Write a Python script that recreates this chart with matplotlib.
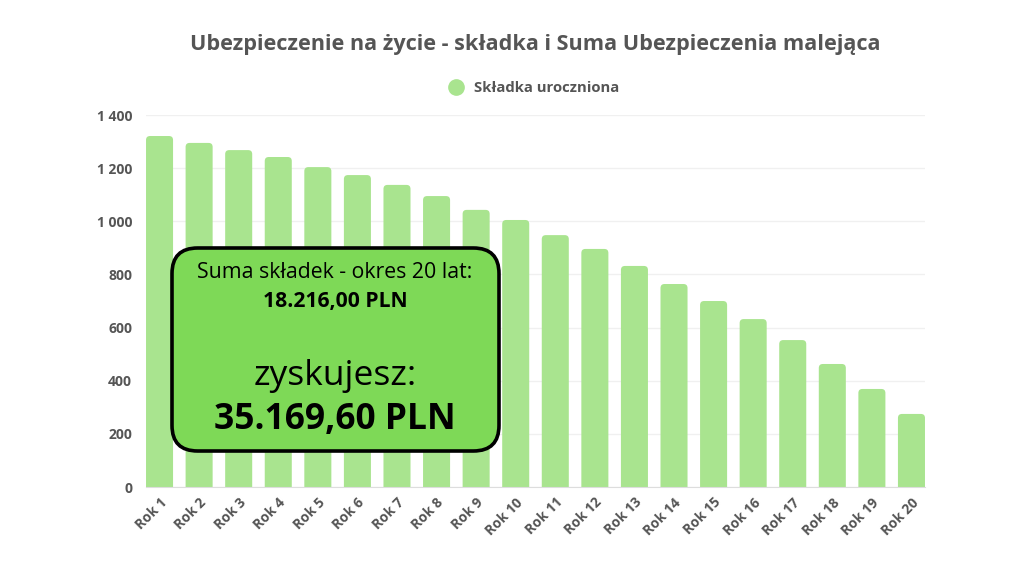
import matplotlib
matplotlib.use('Agg')
import matplotlib.pyplot as plt
from matplotlib.patches import FancyBboxPatch
from matplotlib.lines import Line2D
from matplotlib.ticker import FuncFormatter

plt.rcParams['font.family'] = ['Open Sans', 'DejaVu Sans']

years = ['Rok %d' % i for i in range(1, 21)]
premiums = [1321, 1295, 1268, 1242, 1204, 1174, 1137, 1095, 1043, 1005,
            948, 896, 832, 764, 700, 632, 553, 463, 369, 275]
title = 'Ubezpieczenie na życie - składka i Suma Ubezpieczenia malejąca'
series_name = 'Składka uroczniona'
box_line1 = 'Suma składek - okres 20 lat:'
box_line2 = '18.216,00 PLN'
box_line3 = 'zyskujesz:'
box_line4 = '35.169,60 PLN'

bar_color = '#a9e48f'
text_gray = '#555555'
width = 0.683

fig = plt.figure(figsize=(10.24, 5.76), dpi=100)
ax = fig.add_axes([0.1426, 0.1545, 0.7607, 0.6458])
ax.set_xlim(-width / 2, len(years) - 1 + width / 2)
ax.set_ylim(0, 1400)

# px per data unit, used for rounding the bar tops
px_x = 779 / (len(years) - 1 + width)
px_y = 372 / 1400
radius_px = 4
for i, v in enumerate(premiums):
    p = FancyBboxPatch((i - width / 2, -100), width, v + 100,
                       boxstyle='round,pad=0,rounding_size=%f' % (radius_px / px_x),
                       mutation_aspect=px_x / px_y,
                       facecolor=bar_color, edgecolor='none', zorder=2)
    ax.add_patch(p)

ax.set_yticks(range(0, 1401, 200))
ax.yaxis.set_major_formatter(FuncFormatter(lambda v, _: '{:,}'.format(int(v)).replace(',', ' ')))
ax.set_xticks(range(len(years)))
ax.set_xticklabels(years, rotation=45, ha='right', rotation_mode='anchor')
ax.tick_params(axis='both', length=0, labelsize=10, colors=text_gray)
ax.tick_params(axis='x', pad=6)
ax.tick_params(axis='y', pad=10)
for lab in ax.get_xticklabels() + ax.get_yticklabels():
    lab.set_fontweight('bold')

ax.grid(axis='y', color='#f0f0f0', linewidth=1, zorder=0)
for s in ['top', 'right', 'left']:
    ax.spines[s].set_visible(False)
ax.spines['bottom'].set_color('#dddddd')
ax.spines['bottom'].set_zorder(3)

fig.text(0.523, 0.922, title, ha='center', va='center', fontsize=15.6,
         fontweight='bold', color=text_gray)
handle = Line2D([], [], marker='o', linestyle='none', markersize=11,
                markerfacecolor=bar_color, markeredgecolor=bar_color)
fig.legend([handle], [series_name], loc='center', bbox_to_anchor=(0.518, 0.847),
           frameon=False, prop={'weight': 'bold', 'size': 10.7}, labelcolor=text_gray,
           handletextpad=0.2, borderaxespad=0)

# green info box
box = FancyBboxPatch((172 / 1024, 1 - 451 / 576), 327 / 1024, 203 / 576,
                     boxstyle='round,pad=0,rounding_size=0.025',
                     mutation_aspect=1024 / 576,
                     transform=fig.transFigure, facecolor='#7ed957',
                     edgecolor='black', linewidth=2.6, zorder=5)
fig.add_artist(box)
cx = 335 / 1024
fig.text(cx, 1 - 273 / 576, box_line1, ha='center', va='center', fontsize=15.3, zorder=6)
fig.text(cx, 1 - 301 / 576, box_line2, ha='center', va='center', fontsize=15.2,
         fontweight='bold', zorder=6)
fig.text(cx, 1 - 376 / 576, box_line3, ha='center', va='center', fontsize=25.5, zorder=6)
fig.text(cx, 1 - 420 / 576, box_line4, ha='center', va='center', fontsize=25.5,
         fontweight='bold', zorder=6)

fig.savefig('out.png', dpi=100)
